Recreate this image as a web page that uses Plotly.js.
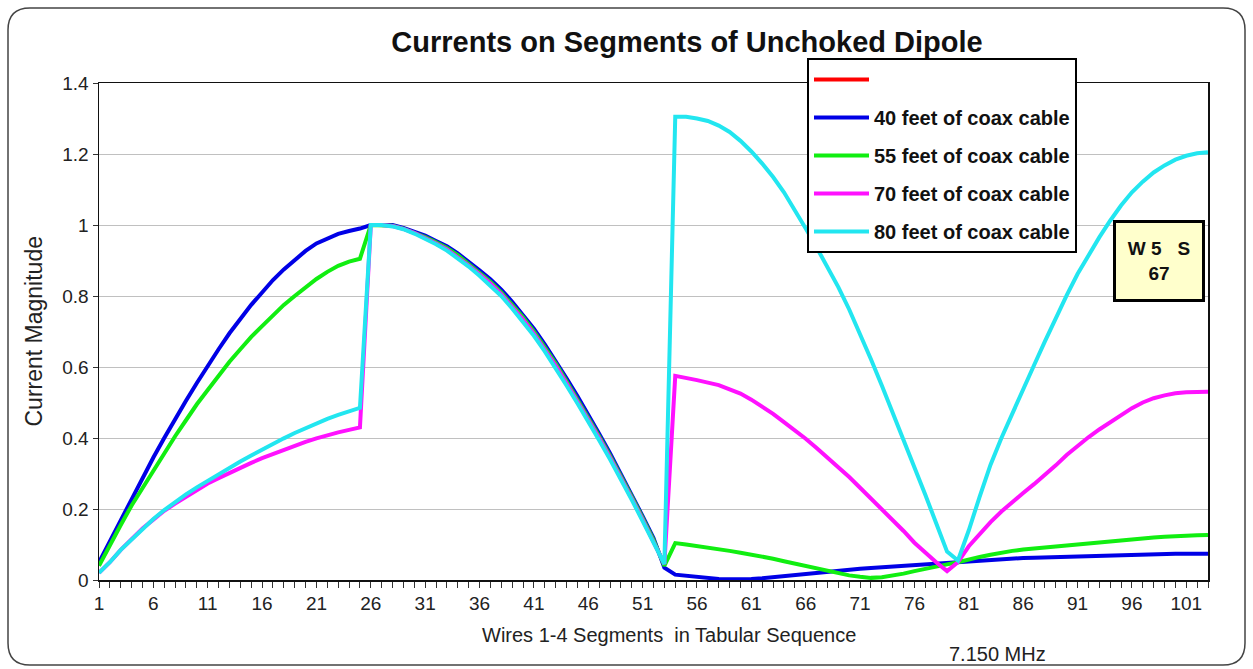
<!DOCTYPE html>
<html>
<head>
<meta charset="utf-8">
<script src="https://cdn.plot.ly/plotly-3.0.1.min.js"></script>
<style>html,body{margin:0;padding:0;background:#fff;}#chart{width:1253px;height:669px;}</style>
</head>
<body>
<div id="chart"></div>
<script>
// Segment index (category axis)
var segments = [1,2,3,4,5,6,7,8,9,10,11,12,13,14,15,16,17,18,19,20,21,22,23,24,25,26,27,28,29,30,31,32,33,34,35,36,37,38,39,40,41,42,43,44,45,46,47,48,49,50,51,52,53,54,55,56,57,58,59,60,61,62,63,64,65,66,67,68,69,70,71,72,73,74,75,76,77,78,79,80,81,82,83,84,85,86,87,88,89,90,91,92,93,94,95,96,97,98,99,100,101,102,103];
var xTickVals = [1,6,11,16,21,26,31,36,41,46,51,56,61,66,71,76,81,86,91,96,101];

var seriesNames = ["40 feet of coax cable","55 feet of coax cable","70 feet of coax cable","80 feet of coax cable"];

var coax40 = [0.05,0.11,0.17,0.23,0.29,0.345,0.40,0.455,0.505,0.555,0.605,0.65,0.695,0.735,0.775,0.81,0.845,0.875,0.902,0.927,0.948,0.963,0.975,0.983,0.99,
  1.0,1.0,1.0,0.992,0.982,0.97,0.955,0.94,0.92,0.897,0.872,0.847,0.818,0.784,0.748,0.708,0.664,0.618,0.568,0.518,0.467,0.412,0.357,0.3,0.24,0.18,0.118,0.035,
  0.015,0.012,0.008,0.005,0.003,0.002,0.002,0.003,0.005,0.008,0.012,0.016,0.019,0.022,0.025,0.028,0.03,0.032,0.034,0.036,0.038,0.041,0.044,0.046,0.048,0.05,
  0.052,0.054,0.056,0.058,0.06,0.061,0.062,0.063,0.064,0.065,0.066,0.067,0.068,0.069,0.07,0.071,0.072,0.072,0.073,0.073,0.074,0.074,0.074,0.074];

var coax55 = [0.04,0.10,0.155,0.21,0.26,0.31,0.36,0.405,0.45,0.495,0.535,0.575,0.615,0.65,0.685,0.715,0.745,0.775,0.80,0.825,0.848,0.868,0.885,0.897,0.905,
  1.0,1.0,0.998,0.99,0.979,0.966,0.951,0.935,0.915,0.891,0.866,0.84,0.81,0.776,0.74,0.70,0.656,0.61,0.56,0.51,0.46,0.405,0.35,0.294,0.235,0.175,0.113,0.04,
  0.104,0.10,0.096,0.092,0.087,0.082,0.077,0.072,0.066,0.06,0.053,0.046,0.039,0.032,0.025,0.019,0.013,0.009,0.006,0.008,0.012,0.018,0.025,0.032,0.038,0.044,
  0.05,0.058,0.065,0.071,0.077,0.082,0.086,0.089,0.092,0.095,0.098,0.101,0.104,0.107,0.11,0.113,0.116,0.118,0.12,0.122,0.124,0.125,0.126,0.127];

var coax70 = [0.02,0.05,0.085,0.115,0.145,0.17,0.195,0.215,0.235,0.255,0.272,0.287,0.302,0.316,0.33,0.343,0.355,0.366,0.378,0.389,0.399,0.408,0.416,0.423,0.43,
  1.0,1.0,0.997,0.989,0.978,0.964,0.948,0.931,0.91,0.886,0.861,0.835,0.805,0.77,0.734,0.694,0.65,0.604,0.554,0.504,0.454,0.4,0.345,0.29,0.23,0.17,0.11,0.045,
  0.575,0.57,0.563,0.556,0.549,0.537,0.525,0.508,0.489,0.468,0.445,0.423,0.398,0.372,0.345,0.317,0.29,0.26,0.23,0.2,0.17,0.138,0.105,0.077,0.05,0.025,
  0.05,0.095,0.13,0.163,0.193,0.22,0.245,0.27,0.295,0.323,0.352,0.378,0.402,0.424,0.445,0.465,0.484,0.5,0.512,0.52,0.526,0.529,0.53,0.53];

var coax80 = [0.02,0.05,0.085,0.115,0.145,0.172,0.197,0.22,0.241,0.261,0.28,0.298,0.316,0.334,0.351,0.368,0.384,0.399,0.414,0.428,0.442,0.454,0.465,0.475,0.485,
  1.0,1.0,0.996,0.988,0.976,0.962,0.946,0.928,0.907,0.883,0.857,0.83,0.8,0.765,0.728,0.688,0.644,0.598,0.548,0.498,0.448,0.394,0.34,0.285,0.226,0.166,0.106,0.045,
  1.305,1.305,1.30,1.293,1.28,1.262,1.237,1.207,1.173,1.135,1.092,1.043,0.99,0.937,0.882,0.825,0.762,0.695,0.622,0.548,0.472,0.395,0.318,0.24,0.16,0.08,
  0.055,0.14,0.235,0.325,0.40,0.47,0.54,0.605,0.672,0.74,0.802,0.862,0.915,0.965,1.012,1.055,1.092,1.122,1.148,1.168,1.184,1.195,1.202,1.205];

var colors = ["#FF0000","#0000E6","#11EE11","#FF11FF","#22E6F0"];

// plot area in pixels
var W = 1253, H = 669, L = 99, R = 1208, T = 83, B = 580;
function px(x){ return (x - L) / (R - L); }
function py(y){ return (B - y) / (B - T); }

var traces = [
  {x:[null], y:[null], name:" ", mode:"lines", line:{color:colors[0], width:4}, legendgroup:"g0", hoverinfo:"skip"},
  {x:segments, y:coax40, name:seriesNames[0], mode:"lines", line:{color:colors[1], width:4}, legendgroup:"g1"},
  {x:segments, y:coax55, name:seriesNames[1], mode:"lines", line:{color:colors[2], width:4}, legendgroup:"g2"},
  {x:segments, y:coax70, name:seriesNames[2], mode:"lines", line:{color:colors[3], width:4}, legendgroup:"g3"},
  {x:segments, y:coax80, name:seriesNames[3], mode:"lines", line:{color:colors[4], width:4}, legendgroup:"g4"}
];

var rx = 22/(R-L), ry = 22/(B-T);
var x0 = px(8), x1 = px(1245), y0 = py(665), y1 = py(8);
var framePath = "M " + (x0+rx) + "," + y1 +
  " L " + (x1-rx) + "," + y1 + " Q " + x1 + "," + y1 + " " + x1 + "," + (y1-ry) +
  " L " + x1 + "," + (y0+ry) + " Q " + x1 + "," + y0 + " " + (x1-rx) + "," + y0 +
  " L " + (x0+rx) + "," + y0 + " Q " + x0 + "," + y0 + " " + x0 + "," + (y0+ry) +
  " L " + x0 + "," + (y1-ry) + " Q " + x0 + "," + y1 + " " + (x0+rx) + "," + y1 + " Z";

var font = "Liberation Sans, Arial, sans-serif";

var layout = {
  width: W, height: H,
  margin: {l: L, r: W - R, t: T, b: H - B, pad: 0},
  paper_bgcolor: "#ffffff",
  plot_bgcolor: "#ffffff",
  showlegend: true,
  title: {text: "<b>Currents on Segments of Unchoked Dipole</b>", x: 687/W, xref: "container", xanchor: "center",
          y: 1 - 42/H, yref: "container", yanchor: "middle",
          font: {family: font, size: 29, color: "#111"}},
  xaxis: {
    range: [1, 103], tickmode: "array", tickvals: xTickVals, ticktext: xTickVals.map(String),
    ticks: "outside", ticklen: 6, tickwidth: 1, tickcolor: "#333",
    minor: {dtick: 1, tick0: 1, ticks: "outside", ticklen: 6, tickwidth: 1, tickcolor: "#333", showgrid: false},
    showline: true, linecolor: "#111", linewidth: 1.5, mirror: true,
    showgrid: false, zeroline: false,
    tickfont: {family: font, size: 19, color: "#222"}
  },
  yaxis: {
    range: [0, 1.4], dtick: 0.2, tick0: 0,
    ticks: "outside", ticklen: 5, tickcolor: "#333",
    showline: true, linecolor: "#111", linewidth: 1.5, mirror: true,
    showgrid: true, gridcolor: "#C0C0C0", gridwidth: 1, zeroline: false,
    tickfont: {family: font, size: 19, color: "#222"}
  },
  legend: {
    x: px(807), y: py(58), xanchor: "left", yanchor: "top",
    xref: "paper", yref: "paper",
    bgcolor: "#ffffff", bordercolor: "#000000", borderwidth: 2,
    font: {family: font, size: 20, color: "#111", weight: "bold"},
    traceorder: "grouped", tracegroupgap: 9, itemwidth: 55
  },
  shapes: [
    {type: "path", xref: "paper", yref: "paper", path: framePath, line: {color: "#444", width: 1.5}, layer: "below"}
  ],
  annotations: [
    {text: "Current Magnitude", xref: "paper", yref: "paper", x: px(33), y: 0.5, textangle: -90,
     showarrow: false, xanchor: "center", yanchor: "middle", font: {family: font, size: 23, color: "#222"}},
    {text: "Wires 1-4 Segments  in Tabular Sequence", xref: "paper", yref: "paper", x: px(669), y: py(635),
     showarrow: false, xanchor: "center", yanchor: "middle", font: {family: font, size: 20, color: "#222"}},
    {text: "7.150 MHz", xref: "paper", yref: "paper", x: px(997), y: py(654),
     showarrow: false, xanchor: "center", yanchor: "middle", font: {family: font, size: 20, color: "#222"}},
    {text: "<b>W 5   S<br>67</b>", xref: "paper", yref: "paper", x: px(1159), y: py(261),
     showarrow: false, xanchor: "center", yanchor: "middle", align: "center",
     width: 84, height: 74, bgcolor: "#FFFFCC", bordercolor: "#000000", borderwidth: 3, borderpad: 1,
     font: {family: font, size: 19, color: "#111"}}
  ]
};

Plotly.newPlot("chart", traces, layout, {displayModeBar: false, staticPlot: true});
</script>
</body>
</html>
